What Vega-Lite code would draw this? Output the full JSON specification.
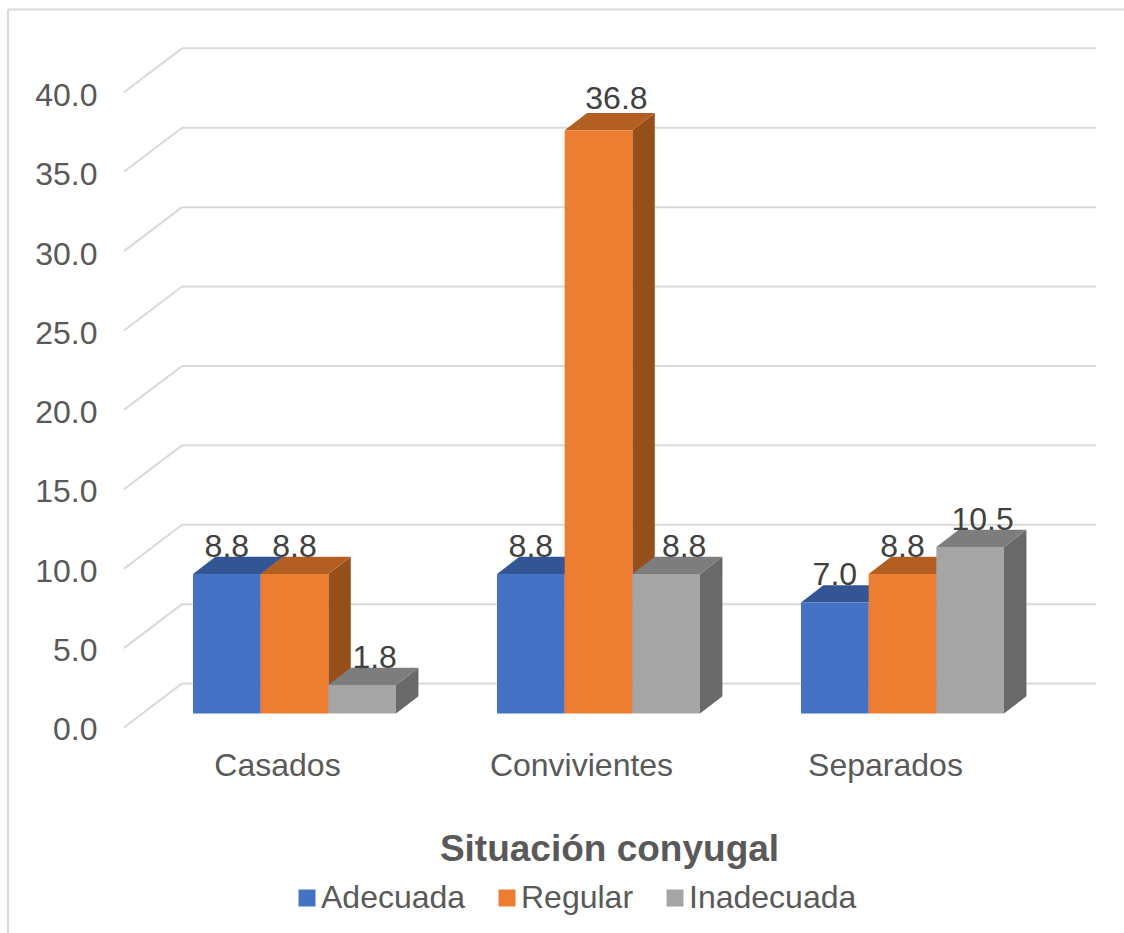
{
"$schema":"https://vega.github.io/schema/vega-lite/v6.json",
"width":1124,"height":933,"padding":0,"autosize":{"type":"none"},"background":"white",
"config":{"view":{"stroke":null},"font":"Liberation Sans"},
"datasets":{
"bars":[
{"situacion":"Casados","serie":"Adecuada","valor":8.8},
{"situacion":"Casados","serie":"Regular","valor":8.8},
{"situacion":"Casados","serie":"Inadecuada","valor":1.8},
{"situacion":"Convivientes","serie":"Adecuada","valor":8.8},
{"situacion":"Convivientes","serie":"Regular","valor":36.8},
{"situacion":"Convivientes","serie":"Inadecuada","valor":8.8},
{"situacion":"Separados","serie":"Adecuada","valor":7.0},
{"situacion":"Separados","serie":"Regular","valor":8.8},
{"situacion":"Separados","serie":"Inadecuada","valor":10.5}
],
"ticks":[{"v":0},{"v":5},{"v":10},{"v":15},{"v":20},{"v":25},{"v":30},{"v":35},{"v":40}]
},
"encoding":{
"x":{"field":"x","type":"quantitative","scale":{"domain":[-0.91118,2.78618],"nice":false,"zero":false},
"axis":{"orient":"bottom","offset":-168,"values":[0,1,2],"labelExpr":"['Casados','Convivientes','Separados'][datum.value]","grid":false,"ticks":false,"domain":false,"labelFontSize":32,"labelColor":"#595959","labelPadding":0,"labelBaseline":"middle","labelFlush":false,"labelOverlap":false,"labelLimit":500,"title":"Situación conyugal","titleFontSize":37,"titleFontWeight":"bold","titleColor":"#595959","titleX":609,"titleY":84,"titleBaseline":"middle","titleAlign":"center","titleLimit":800}},
"y":{"field":"y","type":"quantitative","scale":{"domain":[-13.85,45.02],"nice":false,"zero":false},
"axis":{"orient":"left","offset":-97,"values":[0,5,10,15,20,25,30,35,40],"format":".1f","grid":false,"ticks":false,"domain":false,"labelFontSize":32,"labelColor":"#595959","labelPadding":0,"labelAlign":"right","labelOffset":16,"labelFlush":false,"labelOverlap":false,"title":null}}
},
"resolve":{"scale":{"color":"independent"}},
"layer":[
{"data":{"values":[{"lado":"arriba"}]},
 "transform":[{"calculate":"-0.8849","as":"x"},{"calculate":"2.786","as":"xb"},{"calculate":"44.42","as":"y"}],
 "mark":{"type":"rule","color":"#d9d9d9","strokeWidth":2},
 "encoding":{"x2":{"field":"xb"}}},
{"data":{"values":[{"lado":"izquierda"}]},
 "transform":[{"calculate":"-0.8849","as":"x"},{"calculate":"44.44","as":"y"},{"calculate":"-13.85","as":"yb"}],
 "mark":{"type":"rule","color":"#d9d9d9","strokeWidth":2},
 "encoding":{"y2":{"field":"yb"}}},
{"data":{"name":"ticks"},
 "transform":[{"calculate":"-0.3125","as":"x"},{"calculate":"2.695","as":"xb"},{"calculate":"datum.v*1.002+1.89","as":"y"}],
 "mark":{"type":"rule","color":"#d9d9d9","strokeWidth":2},
 "encoding":{"x2":{"field":"xb"}}},
{"data":{"name":"ticks"},
 "transform":[{"calculate":"-0.5033","as":"x"},{"calculate":"-0.3125","as":"xb"},{"calculate":"datum.v*1.002-0.883","as":"y"},{"calculate":"datum.v*1.002+1.89","as":"yb"}],
 "mark":{"type":"rule","color":"#d9d9d9","strokeWidth":2},
 "encoding":{"x2":{"field":"xb"},"y2":{"field":"yb"}}},
{"data":{"name":"bars"},
 "transform":[
  {"calculate":"indexof(['Casados','Convivientes','Separados'],datum.situacion)-0.2763+indexof(['Adecuada','Regular','Inadecuada'],datum.serie)*0.2226+0.2226","as":"xr"},
  {"calculate":"[0,1]","as":"t"},{"flatten":["t"]},
  {"calculate":"datum.xr+datum.t*0.0737","as":"x"},
  {"calculate":"datum.valor+datum.t*1.09","as":"y"},
  {"calculate":"datum.t*1.09","as":"yb"}],
 "mark":{"type":"area","opacity":1},
 "encoding":{"y2":{"field":"yb"},"detail":{"field":"situacion"},
  "color":{"field":"serie","type":"nominal","legend":null,"scale":{"domain":["Adecuada","Regular","Inadecuada"],"range":["#2A4679","#964F1B","#696969"]}}}},
{"data":{"name":"bars"},
 "transform":[
  {"calculate":"indexof(['Casados','Convivientes','Separados'],datum.situacion)-0.2763+indexof(['Adecuada','Regular','Inadecuada'],datum.serie)*0.2226","as":"xl"},
  {"calculate":"[0,1,2,3]","as":"t"},{"flatten":["t"]},
  {"calculate":"datum.xl+[0,0.0737,0.2226,0.2963][datum.t]","as":"x"},
  {"calculate":"datum.valor+(datum.t==0?0:1.09)","as":"y"},
  {"calculate":"datum.valor+(datum.t==3?1.09:0)","as":"yb"}],
 "mark":{"type":"area","opacity":1},
 "encoding":{"y2":{"field":"yb"},"detail":{"field":"situacion"},
  "color":{"field":"serie","type":"nominal","legend":null,"scale":{"domain":["Adecuada","Regular","Inadecuada"],"range":["#335593","#B35E22","#7D7D7D"]}}}},
{"data":{"name":"bars"},
 "transform":[
  {"calculate":"indexof(['Casados','Convivientes','Separados'],datum.situacion)-0.2763+indexof(['Adecuada','Regular','Inadecuada'],datum.serie)*0.2226","as":"x"},
  {"calculate":"datum.x+0.2226","as":"xb"},
  {"calculate":"datum.valor","as":"y"},
  {"calculate":"0","as":"yb"}],
 "mark":{"type":"rect"},
 "encoding":{"x2":{"field":"xb"},"y2":{"field":"yb"},
  "color":{"field":"serie","type":"nominal","scale":{"domain":["Adecuada","Regular","Inadecuada"],"range":["#4472C4","#ED7D31","#A5A5A5"]},
   "legend":{"orient":"none","legendX":291,"legendY":882,"direction":"horizontal","columns":3,"title":null,"symbolType":"square","symbolSize":289,"symbolStrokeWidth":0,"labelFontSize":32,"labelColor":"#595959","labelOffset":-2,"labelLimit":500,"columnPadding":25,"padding":0,"labelBaseline":"middle","rowPadding":0,"symbolOffset":0}}}},
{"data":{"name":"bars"},
 "transform":[
  {"calculate":"indexof(['Casados','Convivientes','Separados'],datum.situacion)-0.2763+indexof(['Adecuada','Regular','Inadecuada'],datum.serie)*0.2226+0.1113","as":"xc"},
  {"calculate":"datum.situacion=='Convivientes'&&datum.serie!='Adecuada'?0.059:(datum.serie=='Inadecuada'?0.041:0)","as":"desvio"},
  {"calculate":"datum.xc+datum.desvio","as":"x"},
  {"calculate":"datum.valor+(datum.valor>30?1.95:1.72)","as":"y"}],
 "mark":{"type":"text","fontSize":32,"color":"#404040","align":"center","baseline":"middle"},
 "encoding":{"text":{"field":"valor","type":"quantitative","format":".1f"}}}
]
}
